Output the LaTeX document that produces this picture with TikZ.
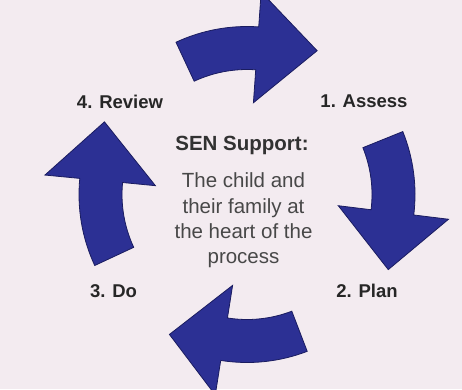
\documentclass[tikz,border=0pt]{standalone}
\usepackage{fontspec}
\setmainfont{Liberation Sans}
\definecolor{bgpink}{RGB}{243,235,240}
\definecolor{cyclefill}{RGB}{44,48,148}
\definecolor{cycleedge}{RGB}{26,28,96}
\definecolor{bodygray}{RGB}{72,72,72}

\begin{document}
\begin{tikzpicture}[x=1pt,y=1pt,
    cyclearrow/.style={fill=cyclefill, draw=cycleedge, line width=0.8pt, line join=miter},
    steplabel/.style={font=\fontsize{18.5}{22}\selectfont\bfseries, text=black!85},
  ]
  \fill[bgpink] (0,0) rectangle (462,389);
  \clip (0,0) rectangle (462,389);
  \coordinate (hub) at (247,194.5);
  % four curved arrows round the hub
  \foreach \sa/\ba/\ta in {115/86/64, 22/-7/-28, -69/-99/-119, 205/174.5/153}
    \draw[cyclearrow, shift={(hub)}] (\sa:168) arc[start angle=\sa, end angle=\ba, radius=168]
      -- (\ba:203) -- (\ta:160) -- (\ba:92) -- (\ba:125)
      arc[start angle=\ba, end angle=\sa, radius=125] -- cycle;
  \node[steplabel] (assess) at (364,288) {1. Assess};
  \node[steplabel] (plan) at (367,98) {2. Plan};
  \node[steplabel] (do) at (113.5,98) {3. Do};
  \node[steplabel] (review) at (120,287) {4. Review};
  \node[font=\fontsize{20.5}{24}\selectfont\bfseries, text=bodygray!70!black, anchor=base] (title) at (242,238.5) {SEN Support:};
  \node[font=\fontsize{20.5}{25.3}\selectfont, text=bodygray, align=center] (heart) at (243.5,168.5) {The child and\\their family at\\the heart of the\\process};
\end{tikzpicture}
\end{document}
